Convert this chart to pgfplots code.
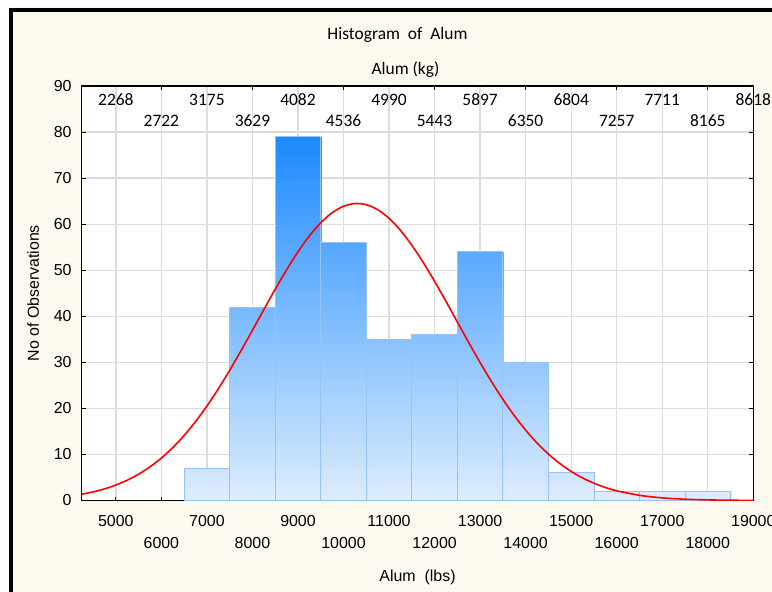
\documentclass[border=0pt]{standalone}
\usepackage{pgfplots}
\pgfplotsset{compat=1.18}
\usepackage{fontspec}
\setmainfont{Liberation Sans}
\newfontfamily\calfont{Carlito}
\definecolor{cream}{RGB}{253,249,238}
\definecolor{barEdge}{RGB}{150,195,245}
\definecolor{gridgray}{RGB}{220,220,220}
\pgfplotsset{
  layers/gridbelow/.define layer set={axis background,axis grid,main,axis ticks,axis lines,axis tick labels,axis descriptions,axis foreground}{},
  colormap={bars}{rgb255(0cm)=(222,237,253) rgb255(1cm)=(28,138,255)},
}
\begin{document}
\begin{tikzpicture}
\fill[white] (0,0) rectangle (772bp,-592bp);
\fill[cream] (9.3bp,-7.3bp) rectangle (772bp,-592bp);
\draw[black, line width=4bp] (11.3bp,-592bp) -- (11.3bp,-9.5bp) -- (772bp,-9.5bp);
\node[font=\calfont\fontsize{17.5}{21}\selectfont] at (397.5bp,-35bp) {Histogram\ \ of\ \ Alum};
\node[font=\calfont\fontsize{17.5}{21}\selectfont] at (405.5bp,-70bp) {Alum (kg)};
\begin{axis}[
  set layers=gridbelow,
  at={(81.7bp,-500.5bp)}, anchor=south west, scale only axis,
  width=671.6bp, height=414.5bp,
  xmin=4250, xmax=19000, ymin=0, ymax=90,
  axis background/.style={fill=white},
  axis line style={line width=1.5bp, black},
  colormap name=bars, point meta min=0, point meta max=79,
  scaled x ticks=false, scaled y ticks=false,
  xtick={5000,6000,...,19000},
  xticklabels={{\strut 5000},{\strut\\\strut 6000},{\strut 7000},{\strut\\\strut 8000},{\strut 9000},{\strut\\\strut 10000},{\strut 11000},{\strut\\\strut 12000},{\strut 13000},{\strut\\\strut 14000},{\strut 15000},{\strut\\\strut 16000},{\strut 17000},{\strut\\\strut 18000},{\strut 19000}},
  ytick={0,10,...,90},
  xtick pos=lower,
  tick align=inside, major tick length=4bp,
  tick style={black, line width=1bp},
  grid=major, grid style={gridgray, line width=1.3bp},
  /pgf/number format/assume math mode=true,
  /pgf/number format/1000 sep={},
  tick label style={font=\fontsize{16}{21.5}\selectfont},
  xticklabel style={anchor=north, inner sep=0pt, yshift=-11.15bp, align=center},
  yticklabel style={anchor=east, inner sep=0pt, xshift=-10bp},
  xlabel={Alum\ \ (lbs)},
  xlabel style={at={(axis description cs:0.5,-0.185)}, anchor=center, font=\fontsize{16}{19}\selectfont},
  ylabel={No of Observations},
  ylabel style={at={(axis description cs:-0.0724,0.5)}, anchor=center, font=\fontsize{16}{19}\selectfont},
]
% bars: one rectangle patch per bin, coloured by height (global vertical gradient)
\addplot[patch, patch type=rectangle, shader=interp, point meta=y] coordinates {
(6500,0) (7500,0) (7500,7) (6500,7)
(7500,0) (8500,0) (8500,42) (7500,42)
(8500,0) (9500,0) (9500,79) (8500,79)
(9500,0) (10500,0) (10500,56) (9500,56)
(10500,0) (11500,0) (11500,35) (10500,35)
(11500,0) (12500,0) (12500,36) (11500,36)
(12500,0) (13500,0) (13500,54) (12500,54)
(13500,0) (14500,0) (14500,30) (13500,30)
(14500,0) (15500,0) (15500,6) (14500,6)
(15500,0) (16500,0) (16500,2) (15500,2)
(16500,0) (17500,0) (17500,2) (16500,2)
(17500,0) (18500,0) (18500,2) (17500,2)
};
% bar outlines
\addplot[ybar interval, draw=barEdge, fill=none, line width=0.8bp] coordinates {
(6500,7) (7500,42) (8500,79) (9500,56) (10500,35) (11500,36) (12500,54)
(13500,30) (14500,6) (15500,2) (16500,2) (17500,2) (18500,2)};
\addplot[red, line width=1.6bp, smooth] coordinates {
(4250,1.37) (4500,1.87) (4750,2.52) (5000,3.36) (5250,4.41) (5500,5.71) (5750,7.31)
(6000,9.22) (6250,11.48) (6500,14.12) (6750,17.13) (7000,20.51) (7250,24.24)
(7500,28.27) (7750,32.54) (8000,36.97) (8250,41.45) (8500,45.87) (8750,50.09)
(9000,53.99) (9250,57.44) (9500,60.30) (9750,62.48) (10000,63.89) (10250,64.48)
(10500,64.23) (10750,63.14) (11000,61.26) (11250,58.66) (11500,55.43) (11750,51.70)
(12000,47.59) (12250,43.24) (12500,38.76) (12750,34.30) (13000,29.95) (13250,25.82)
(13500,21.96) (13750,18.43) (14000,15.28) (14250,12.49) (14500,10.08) (14750,8.03)
(15000,6.31) (15250,4.90) (15500,3.75) (15750,2.83) (16000,2.11) (16500,1.13)
(17000,0.57) (17500,0.28) (18000,0.13) (18500,0.06) (19000,0.02)};
\end{axis}
\begin{axis}[
  at={(81.7bp,-500.5bp)}, anchor=south west, scale only axis,
  width=671.6bp, height=414.5bp,
  xmin=4250, xmax=19000, ymin=0, ymax=90,
  axis x line*=top, axis y line=none,
  axis line style={line width=1.5bp, black},
  scaled x ticks=false,
  xtick={5000,6000,...,19000},
  xticklabels={{\strut 2268},{\strut\\\strut 2722},{\strut 3175},{\strut\\\strut 3629},{\strut 4082},{\strut\\\strut 4536},{\strut 4990},{\strut\\\strut 5443},{\strut 5897},{\strut\\\strut 6350},{\strut 6804},{\strut\\\strut 7257},{\strut 7711},{\strut\\\strut 8165},{\strut 8618}},
  major tick length=0pt,
  minor xtick={6000,8000,...,18000},
  minor tick length=4bp,
  tick align=inside,
  tick style={black, line width=1bp},
  ytick=\empty,
  xticklabel style={anchor=north, inner sep=0pt, yshift=-4.3bp, align=center, font=\calfont\fontsize{17.5}{21}\selectfont},
]
\addplot[draw=none] coordinates {(5000,0) (19000,90)};
\end{axis}
\pgfresetboundingbox
\useasboundingbox (0,0) rectangle (772bp,-592bp);
\end{tikzpicture}
\end{document}
